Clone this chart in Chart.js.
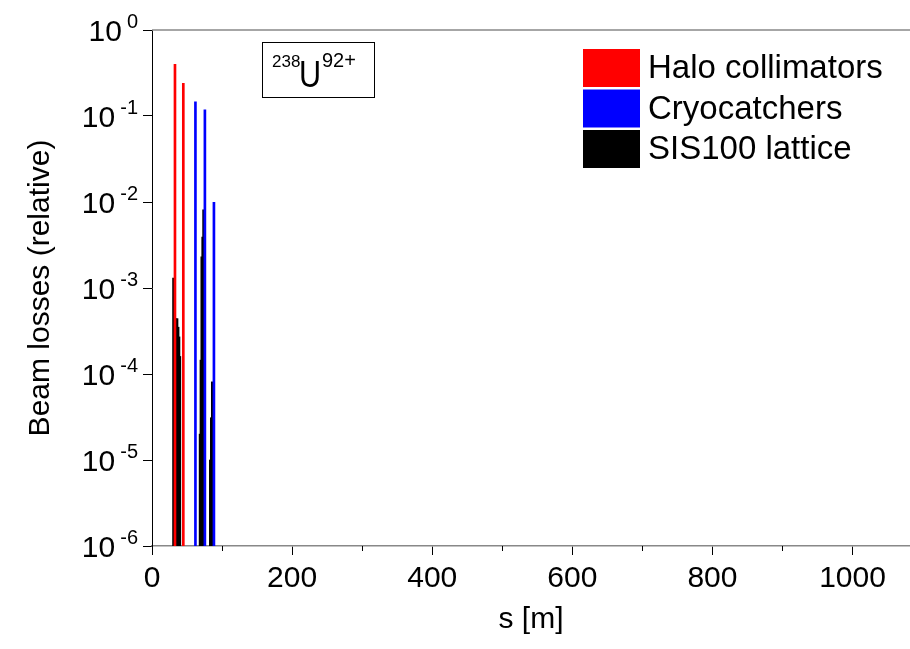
<!DOCTYPE html>
<html>
<head>
<meta charset="utf-8">
<script src="https://cdn.jsdelivr.net/npm/chart.js@4.4.0/dist/chart.umd.min.js"></script>
<style>
  html, body { margin: 0; padding: 0; background: #fff; }
  #wrap { width: 910px; height: 649px; position: relative; }
</style>
</head>
<body>
<div id="wrap"><canvas id="losses"></canvas></div>
<script>
// values (s in metres, losses relative)
const seriesNames = ["Halo collimators", "Cryocatchers", "SIS100 lattice"];
const haloS = [32.8, 44.7];
const haloLoss = [0.40, 0.24];
const cryoS = [62.0, 75.5, 88.4];
const cryoLoss = [0.146, 0.118, 0.0099];
const latticeS = [30.5, 31.5, 34.5, 36.0, 37.5, 38.8, 40.0, 68.4, 69.6, 70.8, 72.1, 73.4, 83.0, 84.4, 85.8];
const latticeLoss = [1.3e-3, 7.9e-4, 4.4e-4, 4.4e-4, 3.5e-4, 2.7e-4, 1.6e-4, 2.0e-5, 1.45e-4, 2.3e-3, 3.9e-3, 8.1e-3, 1.0e-5, 3.1e-5, 8.1e-5];
const xTicks = [0, 200, 400, 600, 800, 1000];
const xMinorTicks = [100, 300, 500, 700, 900];
const yDecades = [-6, -5, -4, -3, -2, -1, 0];
const ionMass = "238";
const ionSymbol = "U";
const ionCharge = "92+";

const FONT = "'Liberation Sans', Arial, Helvetica, sans-serif";

function pairs(xs, ys) {
  return xs.map((x, i) => ({ x: x, y: ys[i] }));
}

// extra drawing: superscript tick labels, minor ticks, frame, ion box, legend
const decor = {
  id: "decor",
  afterDraw(chart) {
    const ctx = chart.ctx;
    const area = chart.chartArea;
    const xs = chart.scales.x;
    const ys = chart.scales.y;
    ctx.save();

    // top frame line
    ctx.strokeStyle = "#888";
    ctx.lineWidth = 1.5;
    ctx.beginPath();
    ctx.moveTo(area.left, area.top);
    ctx.lineTo(area.right, area.top);
    ctx.stroke();

    // minor x ticks
    ctx.strokeStyle = "#000";
    ctx.lineWidth = 1;
    xMinorTicks.forEach(v => {
      const px = Math.round(xs.getPixelForValue(v)) + 0.5;
      ctx.beginPath();
      ctx.moveTo(px, area.bottom);
      ctx.lineTo(px, area.bottom + 5);
      ctx.stroke();
    });

    // y tick labels 10^n
    ctx.fillStyle = "#000";
    ctx.textBaseline = "alphabetic";
    yDecades.forEach(e => {
      const py = ys.getPixelForValue(Math.pow(10, e));
      const exp = String(e);
      ctx.font = "20px " + FONT;
      const ew = ctx.measureText(exp).width;
      ctx.textAlign = "left";
      ctx.fillText(exp, 138 - ew, py - 2);
      ctx.font = "30px " + FONT;
      ctx.textAlign = "right";
      ctx.fillText("10", 138 - ew - 5, py + 11);
    });

    // ion label box
    ctx.strokeStyle = "#000";
    ctx.lineWidth = 1;
    ctx.strokeRect(262.5, 42.5, 112, 55);
    ctx.textAlign = "left";
    ctx.font = "17px " + FONT;
    ctx.fillText(ionMass, 272, 67);
    ctx.save();
    ctx.translate(299, 87);
    ctx.scale(0.85, 1);
    ctx.font = "36px " + FONT;
    ctx.fillText(ionSymbol, 0, 0);
    ctx.restore();
    ctx.font = "20px " + FONT;
    ctx.fillText(ionCharge, 322, 67);

    // legend
    ctx.textBaseline = "middle";
    ctx.font = "33px " + FONT;
    chart.data.datasets.forEach((ds, i) => {
      const top = 49 + i * 40.5;
      ctx.fillStyle = ds.backgroundColor;
      ctx.fillRect(583, top, 57, 38);
      ctx.fillStyle = "#000";
      ctx.fillText(ds.label, 648, top + 20);
    });

    ctx.restore();
  }
};

new Chart(document.getElementById("losses"), {
  type: "bar",
  data: {
    datasets: [
      { label: seriesNames[0], data: pairs(haloS, haloLoss), backgroundColor: "#ff0000", barThickness: 2 },
      { label: seriesNames[1], data: pairs(cryoS, cryoLoss), backgroundColor: "#0000ff", barThickness: 2 },
      { label: seriesNames[2], data: pairs(latticeS, latticeLoss), backgroundColor: "#000000", barThickness: 1.6 }
    ]
  },
  options: {
    responsive: true,
    maintainAspectRatio: false,
    animation: false,
    datasets: { bar: { grouped: false } },
    layout: { padding: { top: 30, left: 0, right: 0, bottom: 0 } },
    plugins: {
      legend: { display: false },
      tooltip: { enabled: false }
    },
    scales: {
      x: {
        type: "linear",
        min: 0,
        max: 1082,
        offset: false,
        afterFit(scale) { scale.height = 103; },
        afterBuildTicks(scale) { scale.ticks = xTicks.map(v => ({ value: v })); },
        border: { color: "#888", width: 1.5 },
        grid: { display: true, drawOnChartArea: false, drawTicks: true, tickLength: 9, color: "#000", offset: false },
        ticks: { color: "#000", font: { family: FONT, size: 30 }, padding: 6, maxRotation: 0, callback: v => String(v) },
        title: { display: true, text: "s [m]", color: "#000", font: { family: FONT, size: 30 }, padding: { top: 0, bottom: 11 } }
      },
      y: {
        type: "logarithmic",
        min: 1e-6,
        max: 1,
        afterFit(scale) { scale.width = 152; },
        afterBuildTicks(scale) { scale.ticks = yDecades.map(e => ({ value: Math.pow(10, e) })); },
        border: { color: "#000", width: 1 },
        grid: { display: true, drawOnChartArea: false, drawTicks: true, tickLength: 9, color: "#000" },
        ticks: { display: false },
        title: { display: true, text: "Beam losses (relative)", color: "#000", font: { family: FONT, size: 30 }, padding: { top: 23, bottom: 0 } }
      }
    }
  },
  plugins: [decor]
});
</script>
</body>
</html>
